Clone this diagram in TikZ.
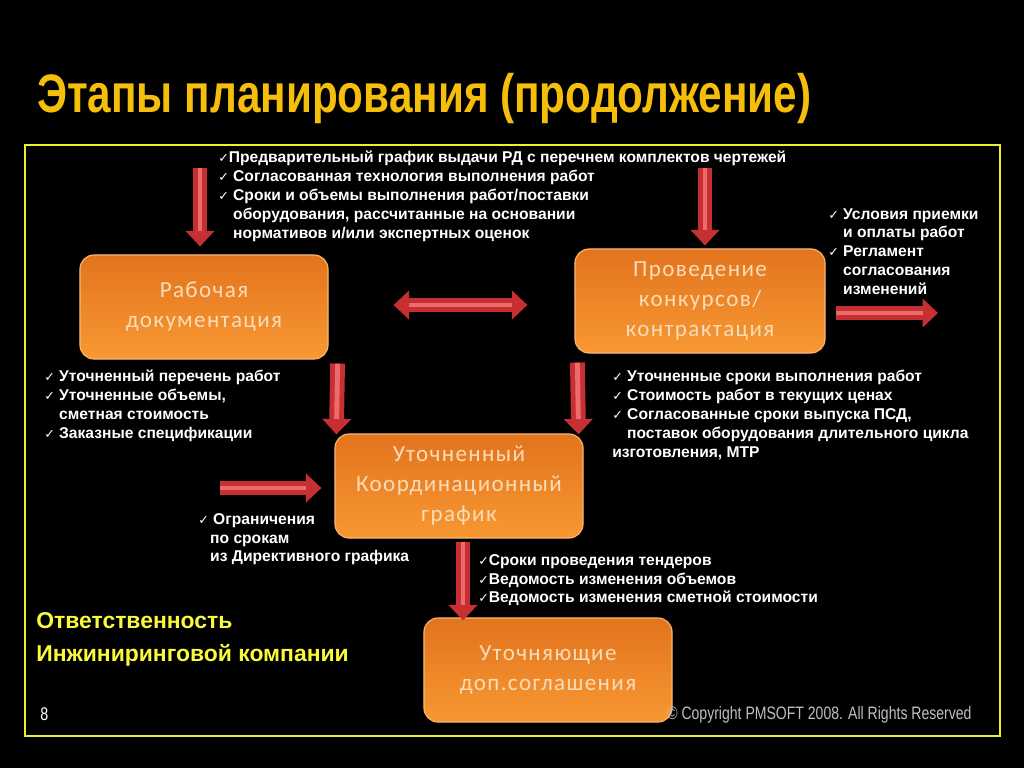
\documentclass[tikz,border=0pt]{standalone}
\usepackage{fontspec}
\setmainfont{Liberation Sans}
\newfontfamily\boxfont[LetterSpace=6]{Carlito}
\newfontfamily\narrowfont[FakeStretch=0.78]{Liberation Sans}
\newfontfamily\symfont{DejaVu Sans}
\usetikzlibrary{arrows.meta}

\definecolor{titlegold}{RGB}{245,190,10}
\definecolor{frameyellow}{RGB}{240,240,40}
\definecolor{notegold}{RGB}{250,250,60}
\definecolor{boxtop}{RGB}{226,116,30}
\definecolor{boxbottom}{RGB}{248,152,50}
\definecolor{boxtext}{RGB}{250,220,185}
\definecolor{arrowred}{RGB}{198,48,50}
\definecolor{arrowlight}{RGB}{236,108,108}

\newcommand{\chk}{{\symfont\small ✓}}
\newcommand{\ind}{\phantom{\chk\ }}

\begin{document}
\begin{tikzpicture}[x=0.025cm, y=-0.025cm,
    stage/.style={rounded corners=10pt, top color=boxtop, bottom color=boxbottom,
        draw=boxbottom!70!white, line width=0.8pt, minimum width=6.2cm, minimum height=2.6cm,
        align=center, text=boxtext, font=\boxfont\fontsize{16.4}{21.3}\selectfont},
    note/.style={anchor=north west, inner sep=0pt, align=left, text=white,
        font=\bfseries\fontsize{11.1}{13.4}\selectfont},
    fat/.style={draw=arrowred, line width=10.5pt, -{Triangle[width=20pt,length=11pt]},
        postaction={draw=arrowlight, line width=3.5pt, -, shorten >=11pt}},
    fatboth/.style={draw=arrowred, line width=10.5pt,
        {Triangle[width=20pt,length=11pt]}-{Triangle[width=20pt,length=11pt]},
        postaction={draw=arrowlight, line width=3.5pt, -, shorten >=11pt, shorten <=11pt}}]

    % background and frame
    \fill[black] (0,0) rectangle (1024,768);
    \useasboundingbox (0,0) rectangle (1024,768);
    \draw[frameyellow, line width=1.8pt] (25,145) rectangle (1000,736);

    \node[anchor=base west, inner sep=0pt, text=titlegold, font=\narrowfont\bfseries\fontsize{38.5}{40}\selectfont] (title) at (37,113) {Этапы планирования (продолжение)};

    % stages
    \node[stage] (rd) at (204,307) {Рабочая\\документация};
    \node[stage, minimum width=6.25cm] (tender) at (700,301) {Проведение\\конкурсов/\\контрактация};
    \node[stage] (plan) at (459,486) {Уточненный\\Координационный\\график};
    \node[stage] (agree) at (548,670) {Уточняющие\\доп.соглашения};

    % free ends
    \coordinate (inrd) at (200,168);
    \coordinate (intender) at (705,168);
    \coordinate (outtender) at (938,313);
    \coordinate (inplan) at (220,488);

    % arrows
    \draw[fat] (inrd) -- ([shift={(-4,-8)}]rd.north);
    \draw[fat] (intender) -- ([shift={(5,-3)}]tender.north);
    \draw[fatboth] ([shift={(65,-2)}]rd.east) -- ([shift={(-47,4)}]tender.west);
    \draw[fat] ([shift={(10,12)}]tender.east) -- (outtender);
    \draw[fat] ([shift={(9,4)}]rd.south east) -- ([shift={(2,1)}]plan.north west);
    \draw[fat] ([shift={(3,9)}]tender.south west) -- ([shift={(-5,1)}]plan.north east);
    \draw[fat] (inplan) -- ([shift={(-13,2)}]plan.west);
    \draw[fat] ([shift={(4,3)}]plan.south) -- ([shift={(4,3)}]plan.south |- agree.north);

    % notes
    \node[note] (n1) at (218,151) {\chk Предварительный график выдачи РД с перечнем комплектов чертежей\\
        \chk\ Согласованная технология выполнения работ\\
        \chk\ Сроки и объемы выполнения работ/поставки\\
        \ind оборудования, рассчитанные на основании\\
        \ind нормативов и/или экспертных оценок};
    \node[note] (n2) at (828,208) {\chk\ Условия приемки\\
        \ind и оплаты работ\\
        \chk\ Регламент\\
        \ind согласования\\
        \ind изменений};
    \node[note] (n3) at (44,370) {\chk\ Уточненный перечень работ\\
        \chk\ Уточненные объемы,\\
        \ind сметная стоимость\\
        \chk\ Заказные спецификации};
    \node[note] (n4) at (612,370) {\chk\ Уточненные сроки выполнения работ\\
        \chk\ Стоимость работ в текущих ценах\\
        \chk\ Согласованные сроки выпуска ПСД,\\
        \ind поставок оборудования длительного цикла\\
        изготовления, МТР};
    \node[note] (n5) at (198,513) {\chk\ Ограничения\\
        \hspace{8.5pt}по срокам\\
        \hspace{8.5pt}из Директивного графика};
    \node[note] (n6) at (478,554) {\chk Сроки проведения тендеров\\
        \chk Ведомость изменения объемов\\
        \chk Ведомость изменения сметной стоимости};

    \node[anchor=north west, inner sep=0pt, align=left, text=notegold, font=\bfseries\fontsize{16.3}{23.5}\selectfont] (resp) at (36,612) {Ответственность\\Инжиниринговой компании};

    \node[anchor=base west, inner sep=0pt, text=white, font=\narrowfont\fontsize{13}{15}\selectfont] (page) at (40,720) {8};
    \node[anchor=base west, inner sep=0pt, text=black!25, font=\narrowfont\fontsize{12.8}{15}\selectfont] (copy) at (667,719) {© Copyright PMSOFT 2008. All Rights Reserved};
\end{tikzpicture}
\end{document}
